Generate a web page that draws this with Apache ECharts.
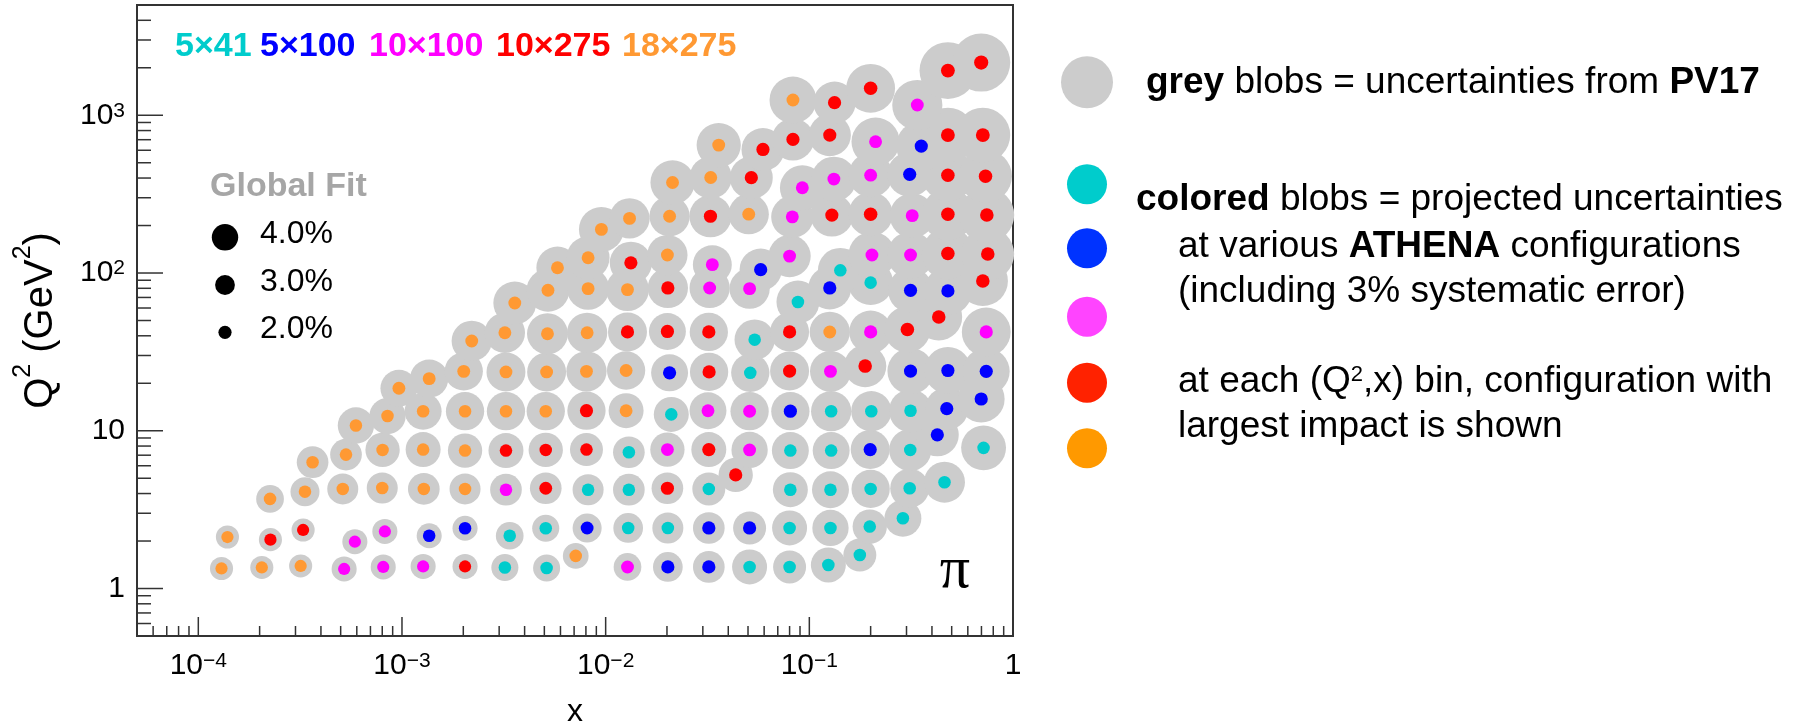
<!DOCTYPE html>
<html>
<head>
<meta charset="utf-8">
<script src="https://cdn.jsdelivr.net/npm/echarts@6/dist/echarts.min.js"></script>
<style>
html,body{margin:0;padding:0;background:#ffffff;}
#chart{width:1804px;height:727px;}
</style>
</head>
<body>
<div id="chart"></div>
<script>
// ---------------- DATA ----------------
const configNames = ['5\u00d741', '5\u00d7100', '10\u00d7100', '10\u00d7275', '18\u00d7275'];

// bin centres in x
const xBin = [
  1.30e-4, 2.05e-4, 3.18e-4, 5.20e-4, 8.09e-4, 1.27e-3, 2.04e-3, 3.20e-3, 5.13e-3, 7.13e-3, 1.28e-2, 2.02e-2, 3.21e-2, 5.09e-2, 8.00e-2, 0.124, 0.177,
  1.39e-4, 2.26e-4, 3.27e-4, 5.87e-4, 8.24e-4, 1.36e-3, 2.04e-3, 3.38e-3, 5.08e-3, 8.11e-3, 1.29e-2, 2.02e-2, 3.21e-2, 5.09e-2, 8.00e-2, 0.127, 0.198, 0.288,
  2.25e-4, 3.34e-4, 5.12e-4, 8.00e-4, 1.28e-3, 2.04e-3, 3.24e-3, 5.08e-3, 8.20e-3, 1.30e-2, 2.01e-2, 3.21e-2, 4.35e-2, 8.07e-2, 0.127, 0.200, 0.311, 0.461,
  3.64e-4, 5.31e-4, 8.03e-4, 1.27e-3, 2.04e-3, 3.24e-3, 5.08e-3, 8.05e-3, 1.30e-2, 2.01e-2, 3.21e-2, 5.09e-2, 8.07e-2, 0.128, 0.199, 0.313, 0.425, 0.717,
  5.94e-4, 8.49e-4, 1.27e-3, 2.04e-3, 3.24e-3, 5.08e-3, 8.05e-3, 1.26e-2, 2.10e-2, 3.18e-2, 5.09e-2, 8.07e-2, 0.128, 0.2015, 0.314, 0.473, 0.698,
  9.66e-4, 1.36e-3, 2.01e-3, 3.24e-3, 5.13e-3, 8.05e-3, 1.26e-2, 2.06e-2, 3.22e-2, 5.13e-2, 8.00e-2, 0.127, 0.188, 0.314, 0.479, 0.739,
  2.20e-3, 3.20e-3, 5.18e-3, 8.11e-3, 1.28e-2, 2.01e-2, 3.21e-2, 5.39e-2, 8.00e-2, 0.126, 0.200, 0.303, 0.432, 0.739,
  3.58e-3, 5.21e-3, 8.20e-3, 1.28e-2, 2.02e-2, 3.24e-2, 5.09e-2, 8.79e-2, 0.126, 0.200, 0.314, 0.479, 0.711,
  5.80e-3, 8.20e-3, 1.33e-2, 2.01e-2, 3.34e-2, 5.77e-2, 8.00e-2, 0.142, 0.203, 0.314, 0.479, 0.752,
  9.53e-3, 1.31e-2, 2.06e-2, 3.27e-2, 5.04e-2, 8.25e-2, 0.129, 0.200, 0.320, 0.479, 0.744,
  2.13e-2, 3.28e-2, 5.19e-2, 9.24e-2, 0.132, 0.200, 0.311, 0.479, 0.733,
  3.59e-2, 5.92e-2, 8.31e-2, 0.126, 0.2115, 0.3545, 0.479, 0.711,
  8.31e-2, 0.133, 0.200, 0.339, 0.479, 0.698
];

// bin centres in Q^2 (GeV^2)
const q2Bin = [
  1.34, 1.36, 1.39, 1.33, 1.37, 1.38, 1.38, 1.36, 1.35, 1.61, 1.37, 1.37, 1.37, 1.37, 1.37, 1.41, 1.63,
  2.12, 2.04, 2.35, 1.98, 2.30, 2.16, 2.41, 2.16, 2.41, 2.42, 2.42, 2.42, 2.42, 2.42, 2.42, 2.42, 2.47, 2.79,
  3.70, 4.11, 4.28, 4.34, 4.28, 4.28, 4.23, 4.32, 4.23, 4.23, 4.32, 4.28, 5.25, 4.23, 4.23, 4.28, 4.32, 4.72,
  6.32, 7.06, 7.56, 7.60, 7.49, 7.49, 7.56, 7.60, 7.31, 7.60, 7.60, 7.56, 7.49, 7.49, 7.60, 7.56, 9.42, 7.79,
  10.8, 12.4, 13.3, 13.3, 13.3, 13.3, 13.4, 13.4, 12.7, 13.4, 13.3, 13.3, 13.3, 13.3, 13.4, 13.8, 15.9,
  18.6, 21.4, 23.8, 23.6, 23.6, 23.8, 24.1, 23.3, 23.6, 23.3, 23.9, 23.8, 25.7, 23.9, 24.1, 23.8,
  37.1, 41.8, 41.2, 41.8, 42.3, 42.6, 42.3, 37.8, 42.3, 42.3, 42.3, 43.9, 52.6, 42.3,
  64.6, 77.7, 79.6, 78.5, 80.4, 80.4, 79.6, 65.5, 80.4, 86.9, 77.7, 77.0, 89.1,
  108, 125, 116, 130, 113, 105, 128, 104, 130, 130, 133, 132,
  189, 222, 229, 229, 236, 227, 233, 236, 231, 236, 233,
  375, 403, 402, 347, 394, 417, 422, 417, 411,
  647, 607, 703, 749, 680, 638, 749, 749,
  1249, 1202, 1482, 1161, 1920, 2158
];

// PV17 (global fit) uncertainty in % -> grey blobs
const pv17Unc = [
  3.5, 3.5, 3.5, 3.8, 3.8, 3.8, 3.8, 4.1, 4.1, 3.9, 4.2, 4.5, 4.8, 5.3, 5.0, 5.3, 5.0,
  3.5, 3.5, 3.5, 3.8, 3.8, 3.8, 3.8, 4.2, 4.1, 4.4, 4.5, 4.7, 4.8, 5.0, 5.3, 5.5, 5.2, 5.6,
  4.2, 4.4, 4.7, 4.7, 4.8, 4.7, 4.8, 4.8, 4.7, 4.8, 4.8, 5.0, 5.2, 5.3, 5.6, 5.8, 5.9, 6.2,
  4.8, 4.8, 5.2, 5.3, 5.2, 5.3, 5.2, 5.0, 4.8, 5.2, 5.3, 5.5, 5.6, 5.6, 5.9, 6.4, 6.5, 6.8,
  5.5, 5.5, 5.6, 5.8, 5.8, 5.8, 5.8, 5.3, 5.3, 5.6, 5.8, 5.8, 6.1, 6.1, 6.5, 6.5, 7.1,
  5.6, 5.8, 5.8, 5.9, 5.9, 6.1, 5.8, 5.6, 5.8, 5.8, 5.9, 6.2, 6.4, 7.0, 7.1, 7.1,
  6.1, 6.1, 6.2, 6.1, 5.9, 5.6, 5.8, 6.1, 5.9, 6.1, 6.5, 7.0, 7.1, 7.4,
  6.5, 6.5, 6.4, 6.5, 6.1, 6.1, 6.1, 6.5, 6.5, 6.8, 6.8, 7.3, 7.6,
  6.4, 6.5, 6.4, 6.1, 5.9, 6.4, 6.4, 6.8, 7.1, 7.1, 7.9, 8.0,
  6.8, 6.1, 6.1, 6.4, 6.1, 6.4, 6.5, 6.7, 6.8, 7.9, 8.3,
  6.7, 6.4, 6.5, 6.8, 6.8, 6.7, 6.8, 7.9, 8.0,
  6.7, 6.5, 6.4, 6.4, 7.3, 7.6, 8.3, 8.3,
  7.1, 6.4, 7.4, 7.6, 8.6, 8.8
];

// projected ATHENA uncertainty in % (best configuration) -> coloured blobs
const athenaUnc = [
  1.85, 1.85, 1.85, 1.85, 1.85, 1.85, 1.85, 1.9, 1.9, 1.9, 1.95, 2.0, 2.0, 1.9, 1.9, 1.9, 1.9,
  1.85, 1.85, 1.85, 1.85, 1.85, 1.9, 1.9, 1.9, 1.9, 1.95, 1.9, 1.9, 2.0, 2.0, 1.9, 1.9, 1.9, 1.9,
  1.9, 1.9, 1.9, 1.9, 1.9, 1.9, 1.9, 1.95, 1.9, 1.9, 2.0, 1.9, 2.0, 1.9, 1.9, 1.9, 1.9, 1.9,
  1.9, 1.9, 1.9, 1.9, 1.9, 1.9, 1.9, 1.9, 1.9, 1.95, 2.0, 1.95, 1.9, 1.9, 2.0, 1.9, 2.0, 1.9,
  1.9, 1.9, 1.9, 1.9, 1.9, 1.9, 2.0, 1.95, 1.9, 1.95, 1.95, 2.0, 1.9, 1.9, 1.9, 2.0, 2.0,
  1.95, 1.95, 1.95, 1.95, 1.95, 1.95, 1.95, 2.0, 2.0, 1.9, 2.0, 1.95, 2.05, 2.0, 2.0, 2.0,
  1.95, 1.95, 1.95, 1.95, 2.0, 2.0, 2.0, 1.9, 2.0, 1.95, 2.0, 2.05, 2.05, 2.0,
  1.95, 1.95, 1.95, 1.95, 2.0, 1.95, 1.95, 1.9, 2.0, 1.9, 2.0, 2.0, 2.05,
  1.95, 1.95, 2.0, 1.95, 1.95, 2.0, 1.95, 1.9, 1.95, 1.95, 2.05, 2.05,
  1.95, 1.95, 1.95, 2.0, 1.95, 1.95, 2.0, 2.05, 1.95, 2.05, 2.05,
  1.95, 1.95, 2.0, 1.95, 1.95, 1.95, 2.0, 2.05, 2.05,
  1.95, 2.0, 2.0, 2.0, 1.95, 2.0, 2.1, 2.1,
  1.95, 2.0, 2.05, 1.95, 2.1, 2.15
];

// configuration with largest impact (index into configNames)
const bestCfg = [
  4, 4, 4, 2, 2, 2, 3, 0, 0, 4, 2, 1, 1, 0, 0, 0, 0,
  4, 3, 3, 2, 2, 1, 1, 0, 0, 1, 0, 0, 1, 1, 0, 0, 0, 0,
  4, 4, 4, 4, 4, 4, 2, 3, 0, 0, 3, 0, 3, 0, 0, 0, 0, 0,
  4, 4, 4, 4, 4, 3, 3, 3, 0, 2, 3, 2, 0, 0, 1, 0, 1, 0,
  4, 4, 4, 4, 4, 4, 3, 4, 0, 2, 2, 1, 0, 0, 0, 1, 1,
  4, 4, 4, 4, 4, 4, 4, 1, 3, 0, 3, 2, 3, 1, 1, 1,
  4, 4, 4, 4, 3, 3, 3, 0, 3, 4, 2, 3, 3, 2,
  4, 4, 4, 4, 3, 2, 2, 0, 1, 0, 1, 1, 3,
  4, 4, 3, 4, 2, 1, 2, 0, 2, 2, 3, 3,
  4, 4, 4, 3, 4, 2, 3, 3, 2, 3, 3,
  4, 4, 3, 2, 2, 2, 1, 3, 3,
  4, 3, 3, 3, 2, 1, 3, 3,
  4, 3, 3, 2, 3, 3
];

// "Global Fit" size key (%)
const sizeKeyPct = [4.0, 3.0, 2.0];
const sizeKeyText = ['4.0%', '3.0%', '2.0%'];

// axis ticks and labels
const xMajorTicks = [1e-4, 1e-3, 1e-2, 1e-1, 1];
const xLabelBase = ['10', '10', '10', '10', '1'];
const xLabelSup  = ['\u22124', '\u22123', '\u22122', '\u22121', ''];
const yMajorTicks = [1, 10, 100, 1000];
const yLabelBase = ['1', '10', '10', '10'];
const yLabelSup  = ['', '', '2', '3'];
const minorMantissa = [2, 3, 4, 5, 6, 7, 8, 9];
const xMinorDecades = [1e-5, 1e-4, 1e-3, 1e-2, 1e-1];
const yMinorDecades = [0.1, 1, 10, 100, 1000];

// ---------------- STYLE ----------------
const FONT = '"Liberation Sans", Arial, Helvetica, sans-serif';
const X_MIN = 5e-5, X_MAX = 1, Y_MIN = 0.5, Y_MAX = 5000;
const PX_PER_PCT = 6.6;
const plotColors = ['#00cccc', '#0000ff', '#ff00ff', '#ff0000', '#ff9933'];
const keyColors = ['#00cccc', '#0033ff', '#ff44ff', '#ff2200', '#ff9900'];
const GREY = '#cccccc';

// ---------------- BUILD ----------------
const greyData = xBin.map((x, i) => [x, q2Bin[i], pv17Unc[i]]);
const cfgData = configNames.map((n, k) =>
  xBin.map((x, i) => bestCfg[i] === k ? [x, q2Bin[i], athenaUnc[i]] : null).filter(d => d));

function minorList(decades, lo, hi) {
  const out = [];
  decades.forEach(d => minorMantissa.forEach(m => { const v = m * d; if (v > lo * 1.0001 && v < hi * 0.9999) out.push(v); }));
  return out;
}
const tickData = [];
xMajorTicks.forEach(v => tickData.push([v, Y_MIN, 0, 1]));
minorList(xMinorDecades, X_MIN, X_MAX).forEach(v => tickData.push([v, Y_MIN, 0, 0]));
yMajorTicks.forEach(v => tickData.push([X_MIN, v, 1, 1]));
minorList(yMinorDecades, Y_MIN, Y_MAX).forEach(v => tickData.push([X_MIN, v, 1, 0]));

function findIdx(list, v) {
  for (let i = 0; i < list.length; i++) if (Math.abs(Math.log10(v / list[i])) < 1e-6) return i;
  return -1;
}
const labelRich = {
  b: { fontSize: 30, lineHeight: 30, fontFamily: FONT, color: '#000' },
  s: { fontSize: 21, lineHeight: 20, fontFamily: FONT, color: '#000', verticalAlign: 'top' }
};

const series = [];
series.push({
  type: 'scatter', name: 'PV17', data: greyData, clip: false, silent: true, z: 2,
  symbol: 'circle', symbolSize: v => v[2] * PX_PER_PCT,
  itemStyle: { color: GREY, opacity: 1 }
});
configNames.forEach((n, k) => series.push({
  type: 'scatter', name: n, data: cfgData[k], clip: false, silent: true, z: 3,
  symbol: 'circle', symbolSize: v => v[2] * PX_PER_PCT,
  itemStyle: { color: plotColors[k], opacity: 1 }
}));
series.push({
  type: 'custom', name: 'ticks', data: tickData, silent: true, clip: false, z: 4,
  renderItem: (params, api) => {
    const p = api.coord([api.value(0), api.value(1)]);
    const isY = api.value(2) === 1, major = api.value(3) === 1;
    const len = isY ? (major ? 26 : 14) : (major ? 19 : 10);
    return {
      type: 'line',
      shape: isY ? { x1: p[0], y1: p[1], x2: p[0] + len, y2: p[1] } : { x1: p[0], y1: p[1], x2: p[0], y2: p[1] - len },
      style: { stroke: '#333333', lineWidth: 1.5 }
    };
  }
});

// graphic annotations
const g = [];
const cfgLeft = [175, 260, 369, 496, 622];
configNames.forEach((n, k) => g.push({
  type: 'text', x: cfgLeft[k], y: 47, z: 10,
  style: { text: n, fill: plotColors[k], fontSize: 34, fontWeight: 'bold', fontFamily: FONT, align: 'left', verticalAlign: 'middle' }
}));
g.push({ type: 'text', x: 210, y: 187, z: 10,
  style: { text: 'Global Fit', fill: '#a6a6a6', fontSize: 34, fontWeight: 'bold', fontFamily: FONT, align: 'left', verticalAlign: 'middle' } });
const keyDotY = [237.3, 285, 332.3];
const keyTextY = [234, 282, 329];
sizeKeyPct.forEach((p, i) => {
  g.push({ type: 'circle', z: 10, shape: { cx: 225, cy: keyDotY[i], r: p * PX_PER_PCT / 2 }, style: { fill: '#000' } });
  g.push({ type: 'text', x: 260, y: keyTextY[i], z: 10,
    style: { text: sizeKeyText[i], fill: '#000', fontSize: 32, fontFamily: FONT, align: 'left', verticalAlign: 'middle' } });
});
g.push({ type: 'text', x: 955, y: 571, z: 10,
  style: { text: '\u03c0', fill: '#000', fontSize: 60, fontFamily: '"Liberation Serif", "DejaVu Serif", serif', align: 'center', verticalAlign: 'middle' } });

// right-hand key
g.push({ type: 'circle', z: 10, shape: { cx: 1087, cy: 82.3, r: 26 }, style: { fill: GREY } });
const keyCircleY = [184.3, 248.3, 316.7, 382.7, 448.3];
keyCircleY.forEach((cy, k) => g.push({ type: 'circle', z: 10, shape: { cx: 1087, cy: cy, r: 20 }, style: { fill: keyColors[k] } }));
const RF = 37;
const rightRich = {
  n: { fontSize: RF, lineHeight: RF, fontFamily: FONT, fill: '#000' },
  b: { fontSize: RF, lineHeight: RF, fontFamily: FONT, fontWeight: 'bold', fill: '#000' },
  s: { fontSize: 22, lineHeight: 16, fontFamily: FONT, fill: '#000', verticalAlign: 'top' }
};
const rightLines = [
  { x: 1146, y: 83, t: '{b|grey}{n| blobs = uncertainties from }{b|PV17}' },
  { x: 1136, y: 200.2, t: '{b|colored}{n| blobs = projected uncertainties}' },
  { x: 1178, y: 247.2, t: '{n|at various }{b|ATHENA}{n| configurations}' },
  { x: 1178, y: 292.2, t: '{n|(including 3% systematic error)}' },
  { x: 1178, y: 382.2, t: '{n|at each (Q}{s|2}{n|,x) bin, configuration with}' },
  { x: 1178, y: 427.2, t: '{n|largest impact is shown}' }
];
rightLines.forEach(l => g.push({ type: 'text', x: l.x, y: l.y, z: 10,
  style: { text: l.t, rich: rightRich, align: 'left', verticalAlign: 'middle', fontSize: RF, fontFamily: FONT } }));

const option = {
  animation: false,
  backgroundColor: '#ffffff',
  grid: { left: 137, top: 5, width: 876, height: 631, show: true, borderColor: '#333333', borderWidth: 2,
          backgroundColor: 'transparent', containLabel: false, outerBoundsMode: 'none' },
  xAxis: {
    type: 'log', logBase: 10, min: X_MIN, max: X_MAX,
    axisLine: { show: false }, axisTick: { show: false }, splitLine: { show: false }, minorTick: { show: false },
    axisLabel: {
      margin: 15, rich: labelRich, showMinLabel: true, showMaxLabel: true, hideOverlap: false,
      formatter: v => { const i = findIdx(xMajorTicks, v); if (i < 0) return ''; return '{b|' + xLabelBase[i] + '}' + (xLabelSup[i] ? '{s|' + xLabelSup[i] + '}' : ''); }
    },
    name: 'x', nameLocation: 'middle', nameGap: 64,
    nameTextStyle: { fontSize: 32, lineHeight: 24, fontFamily: FONT, color: '#000' }
  },
  yAxis: {
    type: 'log', logBase: 10, min: Y_MIN, max: Y_MAX,
    axisLine: { show: false }, axisTick: { show: false }, splitLine: { show: false }, minorTick: { show: false },
    axisLabel: {
      margin: 12, rich: labelRich, showMinLabel: true, showMaxLabel: true, hideOverlap: false,
      formatter: v => { const i = findIdx(yMajorTicks, v); if (i < 0) return ''; return '{b|' + yLabelBase[i] + '}' + (yLabelSup[i] ? '{s|' + yLabelSup[i] + '}' : ''); }
    },
    name: '{q|Q}{t|2}{q| (GeV}{t|2}{q|)}', nameLocation: 'middle', nameGap: 66, nameRotate: 90,
    nameTextStyle: { rich: {
      q: { fontSize: 40, lineHeight: 60, fontFamily: FONT, color: '#000' },
      t: { fontSize: 25, lineHeight: 20, fontFamily: FONT, color: '#000', verticalAlign: 'top' }
    } }
  },
  series: series,
  graphic: { elements: g }
};

const chart = echarts.init(document.getElementById('chart'), null, { renderer: 'canvas', width: 1804, height: 727 });
chart.setOption(option);
</script>
</body>
</html>
